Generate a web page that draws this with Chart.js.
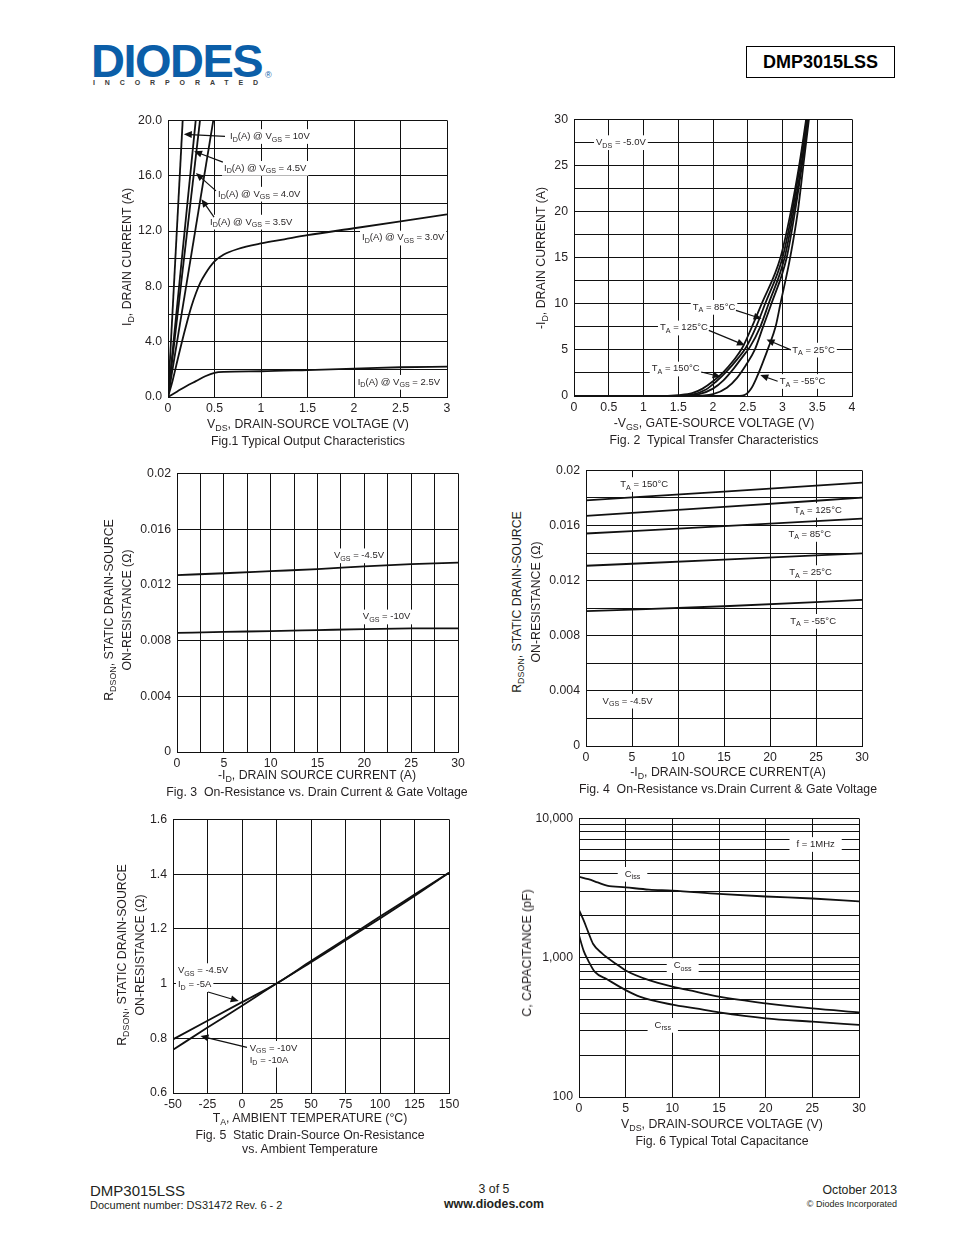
<!DOCTYPE html>
<html>
<head>
<meta charset="utf-8">
<script src="https://cdn.jsdelivr.net/npm/chart.js@4.4.0/dist/chart.umd.min.js"></script>
<style>
body { margin: 0; background: #fff; font-family: "Liberation Sans", Arial, sans-serif; color: #231f20; }
#page { position: relative; width: 954px; height: 1235px; overflow: hidden; }
canvas { position: absolute; }
.abs { position: absolute; white-space: nowrap; }
.c { transform: translate(-50%, -50%); font-size: 12.3px; }
.r { transform: translate(-50%, -50%) rotate(-90deg); font-size: 12.3px; }
sub { font-size: 0.72em; vertical-align: -0.3em; line-height: 0; }
</style>
</head>
<body>
<div id="page">
  <canvas id="fig1"></canvas>
  <canvas id="fig2"></canvas>
  <canvas id="fig3"></canvas>
  <canvas id="fig4"></canvas>
  <canvas id="fig5"></canvas>
  <canvas id="fig6"></canvas>

  <!-- header -->
  <div class="abs" style="left:91px;top:37px;font:bold 47px/47px 'Liberation Sans',Arial;color:#0b5ea8;letter-spacing:-1.5px;">DIODES</div>
  <div class="abs" style="left:265px;top:71px;font:9px/9px 'Liberation Sans',Arial;color:#0b5ea8;">®</div>
  <div class="abs" style="left:93px;top:79px;font:bold 7px/8px 'Liberation Sans',Arial;color:#3a3a3a;letter-spacing:9.9px;">INCORPORATED</div>
  <div class="abs" style="left:746px;top:46px;width:147px;height:30px;border:1.5px solid #000;font:bold 18px/30px 'Liberation Sans',Arial;text-align:center;color:#000;">DMP3015LSS</div>

  <!-- fig 1 titles -->
  <div class="abs r" style="left:127px;top:257px;">I<sub>D</sub>, DRAIN CURRENT (A)</div>
  <div class="abs c" style="left:308px;top:424px;">V<sub>DS</sub>, DRAIN-SOURCE VOLTAGE (V)</div>
  <div class="abs c" style="left:308px;top:441px;">Fig.1 Typical Output Characteristics</div>

  <!-- fig 2 titles -->
  <div class="abs r" style="left:541px;top:258px;">-I<sub>D</sub>, DRAIN CURRENT (A)</div>
  <div class="abs c" style="left:714px;top:423px;">-V<sub>GS</sub>, GATE-SOURCE VOLTAGE (V)</div>
  <div class="abs c" style="left:714px;top:440px;">Fig. 2&nbsp; Typical Transfer Characteristics</div>

  <!-- fig 3 titles -->
  <div class="abs r" style="left:109px;top:610px;">R<sub>DSON</sub>, STATIC DRAIN-SOURCE</div>
  <div class="abs r" style="left:127px;top:610px;">ON-RESISTANCE (Ω)</div>
  <div class="abs c" style="left:317px;top:775px;">-I<sub>D</sub>, DRAIN SOURCE CURRENT (A)</div>
  <div class="abs c" style="left:317px;top:792px;">Fig. 3&nbsp; On-Resistance vs. Drain Current &amp; Gate Voltage</div>

  <!-- fig 4 titles -->
  <div class="abs r" style="left:517px;top:602px;">R<sub>DSON</sub>, STATIC DRAIN-SOURCE</div>
  <div class="abs r" style="left:536px;top:602px;">ON-RESISTANCE (Ω)</div>
  <div class="abs c" style="left:728px;top:772px;">-I<sub>D</sub>, DRAIN-SOURCE CURRENT(A)</div>
  <div class="abs c" style="left:728px;top:789px;">Fig. 4&nbsp; On-Resistance vs.Drain Current &amp; Gate Voltage</div>

  <!-- fig 5 titles -->
  <div class="abs r" style="left:122px;top:955px;">R<sub>DSON</sub>, STATIC DRAIN-SOURCE</div>
  <div class="abs r" style="left:140px;top:955px;">ON-RESISTANCE (Ω)</div>
  <div class="abs c" style="left:310px;top:1118px;">T<sub>A</sub>, AMBIENT TEMPERATURE (°C)</div>
  <div class="abs c" style="left:310px;top:1135px;">Fig. 5&nbsp; Static Drain-Source On-Resistance</div>
  <div class="abs c" style="left:310px;top:1149px;">vs. Ambient Temperature</div>

  <!-- fig 6 titles -->
  <div class="abs r" style="left:527px;top:953px;">C, CAPACITANCE (pF)</div>
  <div class="abs c" style="left:722px;top:1124px;">V<sub>DS</sub>, DRAIN-SOURCE VOLTAGE (V)</div>
  <div class="abs c" style="left:722px;top:1141px;">Fig. 6 Typical Total Capacitance</div>

  <!-- footer -->
  <div class="abs" style="left:90px;top:1182px;font-size:15px;">DMP3015LSS</div>
  <div class="abs" style="left:90px;top:1199px;font-size:11px;">Document number: DS31472 Rev. 6 - 2</div>
  <div class="abs c" style="left:494px;top:1189px;">3 of 5</div>
  <div class="abs c" style="left:494px;top:1204px;font-weight:bold;">www.diodes.com</div>
  <div class="abs" style="right:57px;top:1183px;font-size:12.3px;">October 2013</div>
  <div class="abs" style="right:57px;top:1199px;font-size:9px;">© Diodes Incorporated</div>
</div>

<script>
// ---- Fig 1: output characteristics (VDS in V, ID in A)
const fig1Vds10 = [0, 0.158];
const fig1Id10 = [0, 20];
const fig1Vds45 = [0, 0.298];
const fig1Id45 = [0, 20];
const fig1Vds40 = [0, 0.344];
const fig1Id40 = [0, 20];
const fig1Vds35 = [0, 0.487];
const fig1Id35 = [0, 20];
const fig1Vds30 = [0, 0.05, 0.1, 0.15, 0.2, 0.25, 0.3, 0.35, 0.4, 0.5, 0.6, 0.75, 1.0, 1.25, 1.5, 2.0, 2.5, 3.0];
const fig1Id30 = [0, 1.2, 2.6, 4.0, 5.3, 6.5, 7.5, 8.3, 8.9, 9.8, 10.3, 10.7, 11.1, 11.4, 11.7, 12.2, 12.7, 13.2];
const fig1Vds25 = [0, 0.1, 0.2, 0.3, 0.4, 0.5, 0.6, 1.0, 1.5, 2.0, 2.5, 3.0];
const fig1Id25 = [0, 0.4, 0.8, 1.15, 1.5, 1.75, 1.82, 1.86, 1.95, 2.05, 2.15, 2.2];

// ---- Fig 2: transfer characteristics (-VGS in V, -ID in A)
const fig2Vgs150 = [0, 1.2, 1.5, 1.7, 1.85, 2.0, 2.15, 2.3, 2.42, 2.56, 2.70, 2.97, 3.12, 3.24, 3.34];
const fig2Id150 = [0, 0, 0.1, 0.3, 0.8, 1.6, 2.6, 3.9, 5.2, 7.5, 10, 15, 20, 25, 30];
const fig2Vgs125 = [0, 1.4, 1.7, 1.9, 2.05, 2.2, 2.35, 2.47, 2.62, 2.75, 3.0, 3.14, 3.25, 3.35];
const fig2Id125 = [0, 0, 0.15, 0.7, 1.6, 2.7, 4.0, 5.2, 7.5, 10, 15, 20, 25, 30];
const fig2Vgs85 = [0, 1.5, 1.8, 2.0, 2.15, 2.3, 2.43, 2.53, 2.68, 2.80, 3.03, 3.16, 3.27, 3.36];
const fig2Id85 = [0, 0, 0.2, 0.8, 1.7, 3.0, 4.3, 5.3, 7.5, 10, 15, 20, 25, 30];
const fig2Vgs25 = [0, 1.7, 2.0, 2.2, 2.35, 2.47, 2.6, 2.72, 2.84, 3.06, 3.18, 3.28, 3.37];
const fig2Id25 = [0, 0, 0.2, 0.9, 2.0, 3.3, 5.0, 7.5, 10, 15, 20, 25, 30];
const fig2VgsM55 = [0, 2.3, 2.45, 2.55, 2.64, 2.72, 2.80, 2.90, 2.97, 3.11, 3.22, 3.30, 3.38];
const fig2IdM55 = [0, 0, 0.1, 0.8, 2.2, 3.7, 5.3, 7.5, 10, 15, 20, 25, 30];

// ---- Fig 3: RDS(on) vs -ID
const fig3Id = [0, 5, 10, 15, 20, 25, 30];
const fig3R45 = [0.0127, 0.01283, 0.01298, 0.01313, 0.01332, 0.01348, 0.0136];
const fig3R10 = [0.00855, 0.00862, 0.00868, 0.00875, 0.00882, 0.00887, 0.00888];

// ---- Fig 4: RDS(on) vs -ID over temperature
const fig4Id = [0, 15, 30];
const fig4R150 = [0.01783, 0.01846, 0.01911];
const fig4R125 = [0.0167, 0.01735, 0.01802];
const fig4R85 = [0.01542, 0.01595, 0.0165];
const fig4R25 = [0.01308, 0.01352, 0.01398];
const fig4RM55 = [0.00978, 0.01014, 0.0106];

// ---- Fig 5: normalised RDS(on) vs TA
const fig5Temp = [-50, -25, 0, 25, 50, 75, 100, 125, 150];
const fig5R45 = [0.796, 0.864, 0.932, 1.0, 1.082, 1.163, 1.245, 1.325, 1.405];
const fig5R10 = [0.758, 0.839, 0.919, 1.0, 1.078, 1.158, 1.238, 1.32, 1.405];

// ---- Fig 6: capacitance vs VDS (pF)
const fig6VdsIss = [0, 1, 2, 3, 5, 7.5, 10, 15, 20, 25, 30];
const fig6Ciss = [3810, 3660, 3470, 3290, 3200, 3080, 3030, 2870, 2750, 2660, 2540];
const fig6VdsOss = [0, 0.5, 1, 1.5, 2.5, 4, 5, 7.5, 10, 12.5, 15, 20, 25, 30];
const fig6Coss = [2200, 1850, 1520, 1260, 1070, 900, 810, 690, 620, 570, 525, 470, 432, 405];
const fig6VdsRss = [0, 0.5, 1, 1.7, 3, 5, 6.5, 10, 12.5, 15, 20, 25, 30];
const fig6Crss = [1450, 1120, 950, 790, 700, 585, 525, 460, 432, 405, 367, 347, 329];

const FONT = '"Liberation Sans", Arial, sans-serif';
const INK = '#231f20';

function pts(xs, ys) {
    return xs.map((x, i) => ({ x: x, y: ys[i] }));
}

function line(xs, ys) {
    return {
        data: pts(xs, ys),
        showLine: true,
        borderColor: '#111',
        borderWidth: 1.8,
        pointRadius: 0,
        cubicInterpolationMode: 'monotone',
        fill: false
    };
}

// "I_{D}" -> I with subscript D
function richParts(s) {
    const out = [];
    const re = /_\{([^}]*)\}/g;
    let last = 0, m;
    while ((m = re.exec(s))) {
        if (m.index > last) out.push({ t: s.slice(last, m.index), sub: false });
        out.push({ t: m[1], sub: true });
        last = re.lastIndex;
    }
    if (last < s.length) out.push({ t: s.slice(last), sub: false });
    return out;
}

function drawRich(ctx, s, x, y, size, pad) {
    const parts = richParts(s);
    let w = 0;
    parts.forEach(p => {
        ctx.font = (p.sub ? size * 0.75 : size) + 'px ' + FONT;
        p.w = ctx.measureText(p.t).width;
        w += p.w;
    });
    ctx.fillStyle = '#fff';
    ctx.fillRect(x - pad, y - size * 0.75, w + pad * 2, size * 1.55);
    ctx.fillStyle = INK;
    ctx.textBaseline = 'middle';
    ctx.textAlign = 'left';
    let cx = x;
    parts.forEach(p => {
        ctx.font = (p.sub ? size * 0.75 : size) + 'px ' + FONT;
        ctx.fillText(p.t, cx, p.sub ? y + size * 0.35 : y);
        cx += p.w;
    });
}

function drawArrow(ctx, x1, y1, x2, y2) {
    const a = Math.atan2(y2 - y1, x2 - x1);
    const len = 8, half = 3.5;
    ctx.strokeStyle = '#111';
    ctx.lineWidth = 1.2;
    ctx.beginPath();
    ctx.moveTo(x1, y1);
    ctx.lineTo(x2 - Math.cos(a) * len * 0.8, y2 - Math.sin(a) * len * 0.8);
    ctx.stroke();
    ctx.fillStyle = '#111';
    ctx.beginPath();
    ctx.moveTo(x2, y2);
    ctx.lineTo(x2 - Math.cos(a) * len - Math.sin(a) * half, y2 - Math.sin(a) * len + Math.cos(a) * half);
    ctx.lineTo(x2 - Math.cos(a) * len + Math.sin(a) * half, y2 - Math.sin(a) * len - Math.cos(a) * half);
    ctx.closePath();
    ctx.fill();
}

function notesPlugin(notes) {
    return {
        id: 'notes',
        beforeDatasetsDraw(chart) {
            const ctx = chart.ctx, sx = chart.scales.x, sy = chart.scales.y;
            ctx.save();
            (notes.labels || []).forEach(n => {
                drawRich(ctx, n.t, sx.getPixelForValue(n.x), sy.getPixelForValue(n.y), notes.size || 9.5, notes.pad || 2);
            });
            (notes.arrows || []).forEach(a => {
                drawArrow(ctx, sx.getPixelForValue(a[0]), sy.getPixelForValue(a[1]),
                    sx.getPixelForValue(a[2]), sy.getPixelForValue(a[3]));
            });
            ctx.restore();
        }
    };
}

function axis(o, which, size) {
    return {
        type: o.log ? 'logarithmic' : 'linear',
        min: o.min,
        max: o.max,
        afterFit(s) {
            if (which === 'x') s.height = size; else s.width = size;
        },
        grid: { color: '#111', lineWidth: 1, drawTicks: false },
        border: { color: '#111', width: 1 },
        ticks: {
            stepSize: o.step,
            autoSkip: false,
            maxRotation: 0,
            padding: which === 'x' ? 4 : 6,
            color: INK,
            font: { family: FONT, size: 12.3 },
            callback: o.label
        }
    };
}

function makeChart(id, box, datasets, xo, yo, notes) {
    const cv = document.getElementById(id);
    const padL = 60, padT = 12, padR = 24, padB = 26;
    cv.style.left = (box[0] - padL) + 'px';
    cv.style.top = (box[1] - padT) + 'px';
    cv.width = box[2] - box[0] + padL + padR;
    cv.height = box[3] - box[1] + padT + padB;
    return new Chart(cv, {
        type: 'scatter',
        data: { datasets: datasets },
        options: {
            responsive: false,
            animation: false,
            layout: { padding: { top: padT, right: padR, left: 0, bottom: 0 } },
            plugins: { legend: { display: false }, tooltip: { enabled: false } },
            scales: { x: axis(xo, 'x', padB), y: axis(yo, 'y', padL) }
        },
        plugins: [notesPlugin(notes)]
    });
}

const plain = v => String(+v.toFixed(3));
const everyN = n => v => (Math.abs(v / n - Math.round(v / n)) < 1e-6 ? String(+v.toFixed(3)) : '');

makeChart('fig1', [168, 119, 447, 397],
    [line(fig1Vds10, fig1Id10), line(fig1Vds45, fig1Id45), line(fig1Vds40, fig1Id40),
     line(fig1Vds35, fig1Id35), line(fig1Vds30, fig1Id30), line(fig1Vds25, fig1Id25)],
    { min: 0, max: 3, step: 0.5, label: plain },
    { min: 0, max: 20, step: 2, label: v => (Math.round(v) % 4 === 0 ? v.toFixed(1) : '') },
    {
        labels: [
            { t: 'I_{D}(A) @ V_{GS} = 10V', x: 0.667, y: 18.85 },
            { t: 'I_{D}(A) @ V_{GS} = 4.5V', x: 0.602, y: 16.55 },
            { t: 'I_{D}(A) @ V_{GS} = 4.0V', x: 0.538, y: 14.68 },
            { t: 'I_{D}(A) @ V_{GS} = 3.5V', x: 0.452, y: 12.66 },
            { t: 'I_{D}(A) @ V_{GS} = 3.0V', x: 2.086, y: 11.51 },
            { t: 'I_{D}(A) @ V_{GS} = 2.5V', x: 2.04, y: 1.08 }
        ],
        arrows: [
            [0.613, 18.85, 0.17, 19.0],
            [0.59, 16.98, 0.28, 17.77],
            [0.516, 14.9, 0.30, 16.19],
            [0.495, 13.0, 0.36, 14.3]
        ]
    });

makeChart('fig2', [574, 118, 852, 396],
    [line(fig2Vgs150, fig2Id150), line(fig2Vgs125, fig2Id125), line(fig2Vgs85, fig2Id85),
     line(fig2Vgs25, fig2Id25), line(fig2VgsM55, fig2IdM55)],
    { min: 0, max: 4, step: 0.5, label: plain },
    { min: 0, max: 30, step: 2.5, label: everyN(5) },
    {
        labels: [
            { t: 'V_{DS} = -5.0V', x: 0.317, y: 27.5 },
            { t: 'T_{A} = 85°C', x: 1.708, y: 9.64 },
            { t: 'T_{A} = 125°C', x: 1.237, y: 7.4 },
            { t: 'T_{A} = 25°C', x: 3.14, y: 5.0 },
            { t: 'T_{A} = 150°C', x: 1.118, y: 2.95 },
            { t: 'T_{A} = -55°C', x: 2.96, y: 1.6 }
        ],
        arrows: [
            [2.33, 9.28, 2.70, 8.38],
            [1.94, 7.12, 2.46, 5.5],
            [3.12, 5.0, 2.77, 6.12],
            [1.83, 2.6, 2.11, 2.08],
            [2.93, 1.6, 2.68, 2.27]
        ]
    });

makeChart('fig3', [177, 472, 458, 752],
    [line(fig3Id, fig3R45), line(fig3Id, fig3R10)],
    { min: 0, max: 30, step: 2.5, label: everyN(5) },
    { min: 0, max: 0.02, step: 0.004, label: plain },
    {
        labels: [
            { t: 'V_{GS} = -4.5V', x: 16.75, y: 0.0141 },
            { t: 'V_{GS} = -10V', x: 19.84, y: 0.00971 }
        ]
    });

makeChart('fig4', [586, 469, 862, 746],
    [line(fig4Id, fig4R150), line(fig4Id, fig4R125), line(fig4Id, fig4R85),
     line(fig4Id, fig4R25), line(fig4Id, fig4RM55)],
    { min: 0, max: 30, step: 5, label: plain },
    { min: 0, max: 0.02, step: 0.002, label: everyN(0.004) },
    {
        labels: [
            { t: 'T_{A} = 150°C', x: 3.73, y: 0.01899 },
            { t: 'T_{A} = 125°C', x: 22.6, y: 0.01711 },
            { t: 'T_{A} = 85°C', x: 22.0, y: 0.01537 },
            { t: 'T_{A} = 25°C', x: 22.1, y: 0.0126 },
            { t: 'T_{A} = -55°C', x: 22.2, y: 0.00906 },
            { t: 'V_{GS} = -4.5V', x: 1.8, y: 0.00327 }
        ]
    });

makeChart('fig5', [173, 818, 449, 1093],
    [line(fig5Temp, fig5R45), line(fig5Temp, fig5R10)],
    { min: -50, max: 150, step: 25, label: plain },
    { min: 0.6, max: 1.6, step: 0.2, label: v => String(+v.toFixed(1)) },
    {
        labels: [
            { t: 'V_{GS} = -4.5V', x: -46.4, y: 1.048 },
            { t: 'I_{D} = -5A', x: -46.4, y: 0.997 },
            { t: 'V_{GS} = -10V', x: 5.6, y: 0.764 },
            { t: 'I_{D} = -10A', x: 5.6, y: 0.721 }
        ],
        arrows: [
            [-24.6, 0.969, -2.4, 0.936],
            [3.6, 0.767, -30.1, 0.808]
        ]
    });

makeChart('fig6', [579, 817, 859, 1097],
    [line(fig6VdsIss, fig6Ciss), line(fig6VdsOss, fig6Coss), line(fig6VdsRss, fig6Crss)],
    { min: 0, max: 30, step: 5, label: plain },
    {
        log: true, min: 100, max: 10000,
        label: v => {
            const l = Math.log10(v);
            return Math.abs(l - Math.round(l)) < 1e-9 ? v.toLocaleString('en-US') : '';
        }
    },
    {
        pad: 7,
        labels: [
            { t: 'f = 1MHz', x: 23.3, y: 6520 },
            { t: 'C_{iss}', x: 4.9, y: 3981 },
            { t: 'C_{oss}', x: 10.15, y: 881 },
            { t: 'C_{rss}', x: 8.1, y: 328 }
        ]
    });
</script>
</body>
</html>
